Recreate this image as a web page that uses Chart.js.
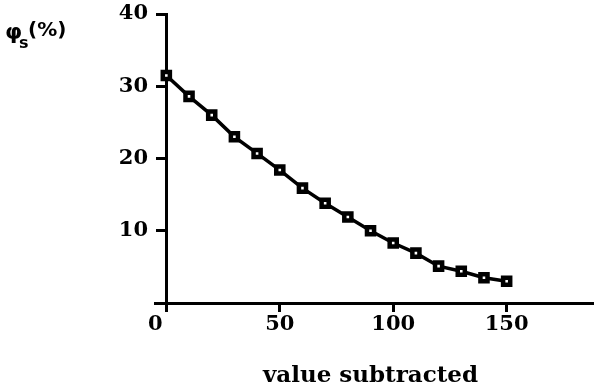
<!DOCTYPE html>
<html>
<head>
<meta charset="utf-8">
<style>
  html, body { margin: 0; padding: 0; background: #fff; }
  #wrap { width: 594px; height: 389px; }
</style>
</head>
<body>
<div id="wrap"><canvas id="chart" width="594" height="389"></canvas></div>
<script src="https://cdn.jsdelivr.net/npm/chart.js"></script>
<script>
    // data
    const subtracted = [0, 10, 20, 30, 40, 50, 60, 70, 80, 90, 100, 110, 120, 130, 140, 150];
    const phiS = [31.5, 28.6, 26.0, 23.0, 20.7, 18.4, 15.9, 13.8, 11.9, 10.0, 8.3, 6.9, 5.1, 4.4, 3.5, 3.0];
    const xTicks = [0, 50, 100, 150];
    const yTicks = [10, 20, 30, 40];
    const xTitle = 'value subtracted';

    const tickFont = { family: 'DejaVu Serif', size: 21, weight: 'bold' };

    // axis labels drawn where the figure has them
    const labelsPlugin = {
        id: 'labels',
        afterDraw(chart) {
            const ctx = chart.ctx;
            ctx.save();
            ctx.fillStyle = '#000';
            ctx.textBaseline = 'alphabetic';
            ctx.font = 'bold 22px "DejaVu Sans"';
            ctx.fillText('\u03c6', 5, 39);
            ctx.font = 'bold 16px "DejaVu Sans"';
            ctx.fillText('s', 19, 48);
            ctx.font = 'bold 20px "DejaVu Sans"';
            ctx.fillText('(%)', 28, 36);
            ctx.font = 'bold 23px "DejaVu Serif"';
            ctx.textAlign = 'center';
            ctx.fillText(xTitle, chart.scales.x.getPixelForValue(90), 382);
            ctx.restore();
        }
    };

    const axisGrid = {
        drawOnChartArea: false, drawTicks: true, tickLength: 9,
        color: '#000', lineWidth: 3, tickColor: '#000', tickWidth: 3
    };

    const ctx = document.getElementById('chart');
    new Chart(ctx, {
        type: 'line',
        data: {
            labels: subtracted,
            datasets: [{
                data: subtracted.map((x, i) => ({ x: x, y: phiS[i] })),
                yAxisID: 'y',
                borderColor: '#000',
                borderWidth: 3.5,
                pointStyle: 'rect',
                pointRadius: 5,
                pointBorderWidth: 4.5,
                pointBackgroundColor: '#fff',
                pointBorderColor: '#000',
                tension: 0
            }]
        },
        options: {
            responsive: false,
            animation: false,
            layout: { autoPadding: false, padding: { top: 14, right: 0, left: 0, bottom: 0 } },
            plugins: { legend: { display: false }, tooltip: { enabled: false } },
            scales: {
                x: {
                    type: 'linear',
                    min: -5,
                    max: 188.5,
                    afterBuildTicks: (scale) => { scale.ticks = xTicks.map(v => ({ value: v })); },
                    afterFit: (scale) => { scale.height = 86; scale.paddingLeft = 0; scale.paddingRight = 0; },
                    border: { color: '#000', width: 3 },
                    grid: axisGrid,
                    ticks: {
                        color: '#000', font: tickFont, padding: 0, maxRotation: 0,
                        // the 0 sits left of its tick in the figure
                        callback: (v) => v === 0 ? '0   ' : String(v)
                    }
                },
                // the axis line itself, crossing the x axis at 0
                y: {
                    type: 'linear',
                    position: { x: 0 },
                    min: 0,
                    max: 40,
                    afterBuildTicks: (scale) => { scale.ticks = yTicks.map(v => ({ value: v })); },
                    border: { color: '#000', width: 3 },
                    grid: axisGrid,
                    ticks: { display: false }
                },
                // the tick labels, kept at the left edge
                yl: {
                    type: 'linear',
                    position: 'left',
                    min: 0,
                    max: 40,
                    afterBuildTicks: (scale) => { scale.ticks = yTicks.map(v => ({ value: v })); },
                    afterFit: (scale) => { scale.width = 155; scale.paddingTop = 0; scale.paddingBottom = 0; },
                    border: { display: false },
                    grid: { display: false, drawTicks: false },
                    ticks: { color: '#000', font: tickFont, padding: 7 }
                }
            }
        },
        plugins: [labelsPlugin]
    });
</script>
</body>
</html>
